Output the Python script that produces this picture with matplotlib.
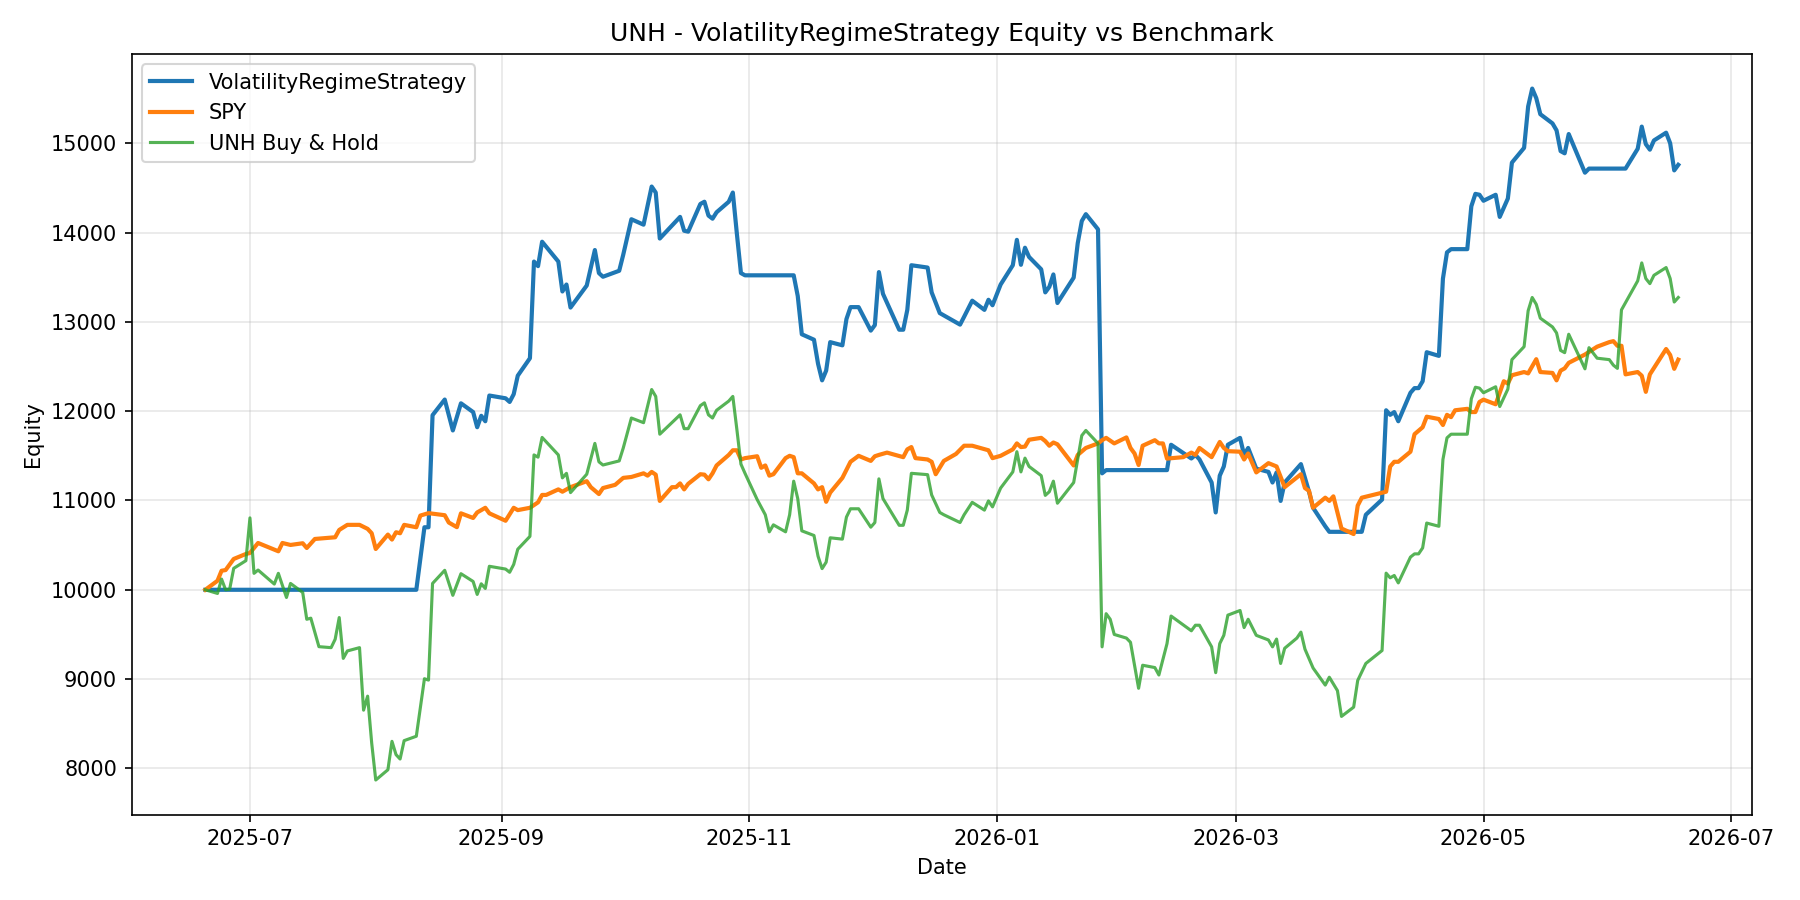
"""
plot.py

UNH - VolatilityRegimeStrategy equity curve vs SPY and UNH buy & hold.

Output:
    out.png
"""

import pandas as pd
import matplotlib.pyplot as plt


STRATEGY_NAME = "VolatilityRegimeStrategy"
TICKER = "UNH"

# strategy equity (date, value)
strat_dates = [
    "2025-06-20", "2025-08-11", "2025-08-13", "2025-08-14", "2025-08-15", "2025-08-18",
    "2025-08-20", "2025-08-22", "2025-08-25", "2025-08-26", "2025-08-27", "2025-08-28",
    "2025-08-29", "2025-09-02", "2025-09-03", "2025-09-04", "2025-09-05", "2025-09-08",
    "2025-09-09", "2025-09-10", "2025-09-11", "2025-09-15", "2025-09-16", "2025-09-17",
    "2025-09-18", "2025-09-22", "2025-09-24", "2025-09-25", "2025-09-26", "2025-09-30",
    "2025-10-01", "2025-10-03", "2025-10-06", "2025-10-08", "2025-10-09", "2025-10-10",
    "2025-10-15", "2025-10-16", "2025-10-17", "2025-10-20", "2025-10-21", "2025-10-22",
    "2025-10-23", "2025-10-24", "2025-10-27", "2025-10-28", "2025-10-29", "2025-10-30",
    "2025-10-31", "2025-11-12", "2025-11-13", "2025-11-14", "2025-11-17", "2025-11-18",
    "2025-11-19", "2025-11-20", "2025-11-21", "2025-11-24", "2025-11-25", "2025-11-26",
    "2025-11-28", "2025-12-01", "2025-12-02", "2025-12-03", "2025-12-04", "2025-12-08",
    "2025-12-09", "2025-12-10", "2025-12-11", "2025-12-15", "2025-12-16", "2025-12-18",
    "2025-12-19", "2025-12-23", "2025-12-24", "2025-12-26", "2025-12-29", "2025-12-30",
    "2025-12-31", "2026-01-02", "2026-01-05", "2026-01-06", "2026-01-07", "2026-01-08",
    "2026-01-09", "2026-01-12", "2026-01-13", "2026-01-14", "2026-01-15", "2026-01-16",
    "2026-01-20", "2026-01-21", "2026-01-22", "2026-01-23", "2026-01-26", "2026-01-27",
    "2026-01-28", "2026-02-12", "2026-02-13", "2026-02-18", "2026-02-19", "2026-02-20",
    "2026-02-23", "2026-02-24", "2026-02-25", "2026-02-26", "2026-02-27", "2026-03-02",
    "2026-03-03", "2026-03-04", "2026-03-06", "2026-03-09", "2026-03-10", "2026-03-11",
    "2026-03-12", "2026-03-13", "2026-03-17", "2026-03-19", "2026-03-20", "2026-03-23",
    "2026-03-24", "2026-04-01", "2026-04-02", "2026-04-06", "2026-04-07", "2026-04-08",
    "2026-04-09", "2026-04-10", "2026-04-13", "2026-04-14", "2026-04-15", "2026-04-16",
    "2026-04-17", "2026-04-20", "2026-04-21", "2026-04-22", "2026-04-23", "2026-04-27",
    "2026-04-28", "2026-04-29", "2026-04-30", "2026-05-01", "2026-05-04", "2026-05-05",
    "2026-05-07", "2026-05-08", "2026-05-11", "2026-05-12", "2026-05-13", "2026-05-14",
    "2026-05-15", "2026-05-18", "2026-05-19", "2026-05-20", "2026-05-21", "2026-05-22",
    "2026-05-26", "2026-05-27", "2026-06-05", "2026-06-08", "2026-06-09", "2026-06-10",
    "2026-06-11", "2026-06-12", "2026-06-15", "2026-06-16", "2026-06-17", "2026-06-18",
]
strat_values = [
    10000, 10000, 10700, 10700, 11955, 12130,
    11784, 12088, 11990, 11820, 11948, 11887,
    12175, 12144, 12103, 12190, 12397, 12593,
    13675, 13624, 13897, 13675, 13340, 13418,
    13160, 13407, 13804, 13546, 13505, 13572,
    13753, 14149, 14088, 14515, 14448, 13933,
    14175, 14020, 14010, 14320, 14345, 14190,
    14155, 14227, 14345, 14448, 13985, 13546,
    13521, 13521, 13289, 12861, 12800, 12531,
    12345, 12454, 12773, 12737, 13031, 13165,
    13165, 12902, 12964, 13557, 13314, 12912,
    12912, 13134, 13634, 13608, 13330, 13098,
    13072, 12969, 13057, 13237, 13134, 13247,
    13186, 13418, 13634, 13918, 13639, 13830,
    13727, 13588, 13330, 13392, 13531, 13211,
    13495, 13881, 14129, 14206, 14036, 11304,
    11340, 11340, 11624, 11470, 11510, 11460,
    11201, 10866, 11278, 11381, 11624, 11701,
    11510, 11588, 11356, 11320, 11201, 11314,
    10995, 11201, 11407, 11098, 10918, 10711,
    10649, 10649, 10840, 11010, 12010, 11959,
    11990, 11887, 12206, 12258, 12258, 12335,
    12660, 12619, 13484, 13778, 13814, 13814,
    14294, 14433, 14423, 14356, 14423, 14175,
    14381, 14783, 14948, 15412, 15612, 15505,
    15325, 15222, 15144, 14912, 14887, 15103,
    14670, 14716, 14716, 14938, 15186, 14990,
    14928, 15031, 15118, 15000, 14696, 14758,
]

# SPY benchmark
spy_dates = [
    "2025-06-20", "2025-06-23", "2025-06-24", "2025-06-25", "2025-06-27", "2025-06-30",
    "2025-07-01", "2025-07-03", "2025-07-08", "2025-07-09", "2025-07-11", "2025-07-14",
    "2025-07-15", "2025-07-17", "2025-07-22", "2025-07-23", "2025-07-25", "2025-07-28",
    "2025-07-30", "2025-07-31", "2025-08-01", "2025-08-04", "2025-08-05", "2025-08-06",
    "2025-08-07", "2025-08-08", "2025-08-11", "2025-08-12", "2025-08-14", "2025-08-18",
    "2025-08-19", "2025-08-21", "2025-08-22", "2025-08-25", "2025-08-26", "2025-08-28",
    "2025-08-29", "2025-09-02", "2025-09-04", "2025-09-05", "2025-09-08", "2025-09-10",
    "2025-09-11", "2025-09-12", "2025-09-15", "2025-09-16", "2025-09-18", "2025-09-22",
    "2025-09-23", "2025-09-25", "2025-09-26", "2025-09-29", "2025-10-01", "2025-10-03",
    "2025-10-06", "2025-10-07", "2025-10-08", "2025-10-09", "2025-10-10", "2025-10-13",
    "2025-10-14", "2025-10-15", "2025-10-16", "2025-10-17", "2025-10-20", "2025-10-21",
    "2025-10-22", "2025-10-23", "2025-10-24", "2025-10-27", "2025-10-28", "2025-10-29",
    "2025-10-30", "2025-10-31", "2025-11-03", "2025-11-04", "2025-11-05", "2025-11-06",
    "2025-11-07", "2025-11-10", "2025-11-11", "2025-11-12", "2025-11-13", "2025-11-14",
    "2025-11-17", "2025-11-18", "2025-11-19", "2025-11-20", "2025-11-21", "2025-11-24",
    "2025-11-26", "2025-11-28", "2025-12-01", "2025-12-02", "2025-12-03", "2025-12-05",
    "2025-12-09", "2025-12-10", "2025-12-11", "2025-12-12", "2025-12-15", "2025-12-16",
    "2025-12-17", "2025-12-19", "2025-12-22", "2025-12-24", "2025-12-26", "2025-12-30",
    "2025-12-31", "2026-01-02", "2026-01-05", "2026-01-06", "2026-01-07", "2026-01-08",
    "2026-01-09", "2026-01-12", "2026-01-13", "2026-01-14", "2026-01-15", "2026-01-16",
    "2026-01-20", "2026-01-21", "2026-01-23", "2026-01-26", "2026-01-27", "2026-01-28",
    "2026-01-30", "2026-02-02", "2026-02-03", "2026-02-04", "2026-02-05", "2026-02-06",
    "2026-02-09", "2026-02-10", "2026-02-11", "2026-02-12", "2026-02-16", "2026-02-18",
    "2026-02-19", "2026-02-20", "2026-02-23", "2026-02-25", "2026-02-26", "2026-02-27",
    "2026-03-02", "2026-03-03", "2026-03-04", "2026-03-06", "2026-03-09", "2026-03-11",
    "2026-03-13", "2026-03-17", "2026-03-18", "2026-03-19", "2026-03-20", "2026-03-23",
    "2026-03-24", "2026-03-25", "2026-03-27", "2026-03-30", "2026-03-31", "2026-04-01",
    "2026-04-07", "2026-04-08", "2026-04-09", "2026-04-10", "2026-04-13", "2026-04-14",
    "2026-04-16", "2026-04-17", "2026-04-20", "2026-04-21", "2026-04-22", "2026-04-23",
    "2026-04-24", "2026-04-27", "2026-04-28", "2026-04-29", "2026-04-30", "2026-05-01",
    "2026-05-04", "2026-05-05", "2026-05-06", "2026-05-07", "2026-05-08", "2026-05-11",
    "2026-05-12", "2026-05-14", "2026-05-15", "2026-05-18", "2026-05-19", "2026-05-20",
    "2026-05-21", "2026-05-22", "2026-05-26", "2026-05-29", "2026-06-01", "2026-06-02",
    "2026-06-03", "2026-06-04", "2026-06-05", "2026-06-08", "2026-06-09", "2026-06-10",
    "2026-06-11", "2026-06-15", "2026-06-16", "2026-06-17", "2026-06-18",
]
spy_values = [
    10000, 10101, 10213, 10221, 10345, 10401,
    10412, 10524, 10431, 10524, 10502, 10521,
    10468, 10569, 10588, 10670, 10727, 10727,
    10682, 10633, 10457, 10618, 10562, 10644,
    10633, 10727, 10700, 10831, 10858, 10835,
    10753, 10701, 10856, 10804, 10866, 10918,
    10856, 10773, 10918, 10892, 10918, 10979,
    11062, 11062, 11124, 11098, 11149, 11216,
    11149, 11072, 11139, 11175, 11253, 11263,
    11304, 11278, 11320, 11289, 10995, 11149,
    11149, 11191, 11124, 11186, 11294, 11289,
    11237, 11304, 11392, 11510, 11562, 11562,
    11459, 11474, 11495, 11366, 11392, 11278,
    11294, 11474, 11500, 11485, 11304, 11304,
    11191, 11124, 11149, 10985, 11088, 11253,
    11433, 11500, 11443, 11495, 11510, 11536,
    11485, 11572, 11598, 11474, 11459, 11433,
    11294, 11443, 11521, 11613, 11613, 11562,
    11474, 11500, 11572, 11639, 11598, 11603,
    11680, 11701, 11665, 11613, 11649, 11629,
    11392, 11510, 11588, 11639, 11675, 11701,
    11639, 11706, 11588, 11526, 11397, 11613,
    11675, 11639, 11639, 11469, 11485, 11536,
    11510, 11588, 11485, 11655, 11588, 11552,
    11546, 11459, 11526, 11314, 11418, 11381,
    11149, 11294, 11139, 11108, 10918, 11031,
    10995, 11046, 10686, 10624, 10943, 11031,
    11098, 11381, 11433, 11433, 11546, 11742,
    11820, 11938, 11912, 11845, 11959, 11933,
    12010, 12026, 11990, 11990, 12103, 12129,
    12077, 12206, 12335, 12309, 12402, 12438,
    12423, 12582, 12438, 12428, 12345, 12454,
    12479, 12541, 12634, 12722, 12773, 12784,
    12732, 12732, 12412, 12438, 12397, 12216,
    12412, 12696, 12629, 12474, 12577,
]

# UNH buy & hold
bh_dates = [
    "2025-06-20", "2025-06-23", "2025-06-24", "2025-06-25", "2025-06-26", "2025-06-27",
    "2025-06-30", "2025-07-01", "2025-07-02", "2025-07-03", "2025-07-07", "2025-07-08",
    "2025-07-10", "2025-07-11", "2025-07-14", "2025-07-15", "2025-07-16", "2025-07-18",
    "2025-07-21", "2025-07-22", "2025-07-23", "2025-07-24", "2025-07-25", "2025-07-28",
    "2025-07-29", "2025-07-30", "2025-07-31", "2025-08-01", "2025-08-04", "2025-08-05",
    "2025-08-06", "2025-08-07", "2025-08-08", "2025-08-11", "2025-08-13", "2025-08-14",
    "2025-08-15", "2025-08-18", "2025-08-20", "2025-08-22", "2025-08-25", "2025-08-26",
    "2025-08-27", "2025-08-28", "2025-08-29", "2025-09-02", "2025-09-03", "2025-09-04",
    "2025-09-05", "2025-09-08", "2025-09-09", "2025-09-10", "2025-09-11", "2025-09-15",
    "2025-09-16", "2025-09-17", "2025-09-18", "2025-09-22", "2025-09-24", "2025-09-25",
    "2025-09-26", "2025-09-30", "2025-10-01", "2025-10-03", "2025-10-06", "2025-10-08",
    "2025-10-09", "2025-10-10", "2025-10-15", "2025-10-16", "2025-10-17", "2025-10-20",
    "2025-10-21", "2025-10-22", "2025-10-23", "2025-10-24", "2025-10-27", "2025-10-28",
    "2025-10-29", "2025-10-30", "2025-10-31", "2025-11-03", "2025-11-05", "2025-11-06",
    "2025-11-07", "2025-11-10", "2025-11-11", "2025-11-12", "2025-11-13", "2025-11-14",
    "2025-11-17", "2025-11-18", "2025-11-19", "2025-11-20", "2025-11-21", "2025-11-24",
    "2025-11-25", "2025-11-26", "2025-11-28", "2025-12-01", "2025-12-02", "2025-12-03",
    "2025-12-04", "2025-12-08", "2025-12-09", "2025-12-10", "2025-12-11", "2025-12-15",
    "2025-12-16", "2025-12-18", "2025-12-19", "2025-12-23", "2025-12-24", "2025-12-26",
    "2025-12-29", "2025-12-30", "2025-12-31", "2026-01-02", "2026-01-05", "2026-01-06",
    "2026-01-07", "2026-01-08", "2026-01-09", "2026-01-12", "2026-01-13", "2026-01-14",
    "2026-01-15", "2026-01-16", "2026-01-20", "2026-01-22", "2026-01-23", "2026-01-26",
    "2026-01-27", "2026-01-28", "2026-01-29", "2026-01-30", "2026-02-02", "2026-02-03",
    "2026-02-05", "2026-02-06", "2026-02-09", "2026-02-10", "2026-02-12", "2026-02-13",
    "2026-02-18", "2026-02-19", "2026-02-20", "2026-02-23", "2026-02-24", "2026-02-25",
    "2026-02-26", "2026-02-27", "2026-03-02", "2026-03-03", "2026-03-04", "2026-03-06",
    "2026-03-09", "2026-03-10", "2026-03-11", "2026-03-12", "2026-03-13", "2026-03-16",
    "2026-03-17", "2026-03-18", "2026-03-20", "2026-03-23", "2026-03-24", "2026-03-26",
    "2026-03-27", "2026-03-30", "2026-03-31", "2026-04-02", "2026-04-06", "2026-04-07",
    "2026-04-08", "2026-04-09", "2026-04-10", "2026-04-13", "2026-04-14", "2026-04-15",
    "2026-04-16", "2026-04-17", "2026-04-20", "2026-04-21", "2026-04-22", "2026-04-23",
    "2026-04-27", "2026-04-28", "2026-04-29", "2026-04-30", "2026-05-01", "2026-05-04",
    "2026-05-05", "2026-05-07", "2026-05-08", "2026-05-11", "2026-05-12", "2026-05-13",
    "2026-05-14", "2026-05-15", "2026-05-18", "2026-05-19", "2026-05-20", "2026-05-21",
    "2026-05-22", "2026-05-26", "2026-05-27", "2026-05-29", "2026-06-01", "2026-06-02",
    "2026-06-03", "2026-06-04", "2026-06-08", "2026-06-09", "2026-06-10", "2026-06-11",
    "2026-06-12", "2026-06-15", "2026-06-16", "2026-06-17", "2026-06-18",
]
bh_values = [
    10000, 9959, 10120, 10000, 10007, 10240,
    10326, 10805, 10184, 10221, 10064, 10184,
    9914, 10071, 9970, 9670, 9682, 9363,
    9352, 9446, 9689, 9232, 9315, 9352,
    8652, 8809, 8285, 7870, 7985, 8303,
    8154, 8105, 8311, 8360, 9004, 8989,
    10071, 10218, 9938, 10180, 10093, 9948,
    10067, 10015, 10263, 10232, 10196, 10284,
    10454, 10598, 11510, 11485, 11706, 11510,
    11253, 11304, 11088, 11294, 11639, 11433,
    11397, 11443, 11588, 11923, 11871, 12242,
    12165, 11742, 11959, 11804, 11804, 12062,
    12093, 11959, 11923, 12010, 12113, 12165,
    11794, 11407, 11304, 11010, 10840, 10649,
    10727, 10649, 10840, 11216, 11021, 10660,
    10608, 10376, 10237, 10309, 10582, 10567,
    10814, 10907, 10907, 10701, 10753, 11242,
    11021, 10722, 10722, 10892, 11304, 11289,
    11062, 10866, 10840, 10753, 10840, 10979,
    10892, 10995, 10928, 11139, 11320, 11546,
    11320, 11474, 11381, 11278, 11057, 11098,
    11216, 10969, 11201, 11727, 11784, 11639,
    9361, 9732, 9670, 9500, 9459, 9412,
    8897, 9155, 9129, 9046, 9397, 9706,
    9541, 9603, 9603, 9361, 9072, 9397,
    9490, 9716, 9768, 9577, 9670, 9490,
    9438, 9361, 9448, 9175, 9345, 9459,
    9526, 9335, 9124, 8933, 9021, 8871,
    8582, 8686, 8985, 9175, 9320, 10186,
    10134, 10160, 10077, 10366, 10402, 10402,
    10469, 10747, 10711, 11459, 11701, 11742,
    11742, 12139, 12268, 12258, 12206, 12273,
    12052, 12247, 12577, 12722, 13124, 13273,
    13196, 13041, 12943, 12876, 12680, 12655,
    12861, 12474, 12711, 12593, 12577, 12515,
    12479, 13134, 13459, 13660, 13485, 13428,
    13521, 13608, 13485, 13222, 13273,
]


def to_series(dates, values) -> pd.Series:
    return pd.Series(values, index=pd.to_datetime(dates), dtype=float)


def main() -> None:
    strategy = to_series(strat_dates, strat_values)
    spy = to_series(spy_dates, spy_values)
    buy_hold = to_series(bh_dates, bh_values)

    fig, ax = plt.subplots(figsize=(12, 6), dpi=150)
    ax.plot(strategy.index, strategy.values, label=STRATEGY_NAME, linewidth=2)
    ax.plot(spy.index, spy.values, label="SPY", linewidth=2)
    ax.plot(buy_hold.index, buy_hold.values, label=f"{TICKER} Buy & Hold",
            linewidth=1.5, alpha=0.8)

    ax.set_title(f"{TICKER} - {STRATEGY_NAME} Equity vs Benchmark")
    ax.set_xlabel("Date")
    ax.set_ylabel("Equity")
    ax.legend(loc="upper left")
    ax.grid(True, alpha=0.3)

    fig.tight_layout()
    fig.savefig("out.png", dpi=150)
    plt.close(fig)


if __name__ == "__main__":
    main()
